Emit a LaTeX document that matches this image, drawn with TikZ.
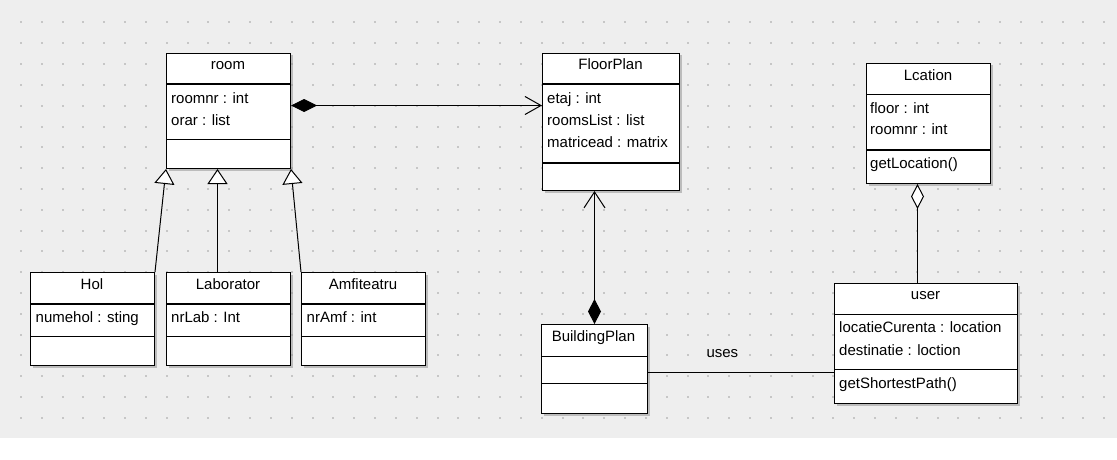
\documentclass[tikz,border=0pt]{standalone}
\usepackage{fontspec}
\setmainfont{Liberation Sans}
\usepackage{xcolor}
\usepackage{tikz}
\usetikzlibrary{arrows.meta}
\usetikzlibrary{shadows}

\definecolor{canvasgrey}{HTML}{EEEEEE}
\definecolor{dotgrey}{HTML}{C6C6C6}

\tikzset{
  classbox/.style={draw=black, fill=white, line width=1pt, inner sep=0pt, anchor=north west,
    drop shadow={shadow xshift=2pt, shadow yshift=-2pt, fill=black!45, opacity=0.5}},
  classname/.style={anchor=base, inner sep=0pt, font=\fontsize{15}{18}\selectfont},
  attr/.style={anchor=base west, inner sep=0pt, font=\fontsize{15}{18}\selectfont},
  compline/.style={line width=1pt},
  heavyline/.style={line width=2pt},
  link/.style={draw=black, line width=1pt},
  inherit/.style={link, -{Triangle[length=15pt, width=20pt, fill=white]}},
}

\begin{document}
\begin{tikzpicture}[x=1pt, y=-1pt]
  \useasboundingbox (0,0) rectangle (1117,460);
  \fill[white] (0,0) rectangle (1117,460);
  \fill[canvasgrey] (0,0) rectangle (1117,438);
  \foreach \i in {0,...,52}
    \foreach \j in {0,...,19}
      \fill[dotgrey] ({20+20.83*\i},{21.5+20.8*\j}) rectangle +(2,2);

  % room
  \node[classbox, minimum width=124pt, minimum height=115pt] (room) at (166,53) {};
  \draw[heavyline] (166,84) -- (290,84);
  \draw[compline] (166,139) -- (290,139);
  \node[classname] at (228,70) {room};
  \node[attr] at (171,103) {roomnr : int};
  \node[attr] at (171,125) {orar : list};

  % Hol
  \node[classbox, minimum width=124pt, minimum height=93pt] (hol) at (30,272) {};
  \draw[heavyline] (30,304) -- (154,304);
  \draw[compline] (30,336) -- (154,336);
  \node[classname] at (92,289) {Hol};
  \node[attr] at (35.5,322.5) {numehol : sting};

  % Laborator
  \node[classbox, minimum width=124pt, minimum height=93pt] (lab) at (166,272) {};
  \draw[heavyline] (166,304) -- (290,304);
  \draw[compline] (166,336) -- (290,336);
  \node[classname] at (228,289) {Laborator};
  \node[attr] at (171,322.5) {nrLab : Int};

  % Amfiteatru
  \node[classbox, minimum width=124pt, minimum height=93pt] (amf) at (301,272) {};
  \draw[heavyline] (301,304) -- (425,304);
  \draw[compline] (301,336) -- (425,336);
  \node[classname] at (363,289) {Amfiteatru};
  \node[attr] at (306.5,322.5) {nrAmf : int};

  % FloorPlan
  \node[classbox, minimum width=137pt, minimum height=137pt] (floorplan) at (542,53) {};
  \draw[heavyline] (542,84) -- (679,84);
  \draw[heavyline] (542,163) -- (679,163);
  \node[classname] at (610.5,70) {FloorPlan};
  \node[attr] at (547,103) {etaj : int};
  \node[attr] at (547,125) {roomsList : list};
  \node[attr] at (547,147) {matricead : matrix};

  % BuildingPlan
  \node[classbox, minimum width=106pt, minimum height=89pt] (buildingplan) at (541,324) {};
  \draw[compline] (541,356) -- (647,356);
  \draw[compline] (541,383) -- (647,383);
  \node[classname] at (593.5,341) {BuildingPlan};

  % Lcation
  \node[classbox, minimum width=124pt, minimum height=120pt] (lcation) at (866,63) {};
  \draw[compline] (866,95) -- (990,95);
  \draw[heavyline] (866,150) -- (990,150);
  \node[classname] at (928,80.5) {Lcation};
  \node[attr] at (870,113.5) {floor : int};
  \node[attr] at (870,135) {roomnr : int};
  \node[attr] at (870,168.5) {getLocation()};

  % user
  \node[classbox, minimum width=183pt, minimum height=120pt] (user) at (834,283) {};
  \draw[compline] (834,314) -- (1017,314);
  \draw[compline] (834,369) -- (1017,369);
  \node[classname] at (925.5,299.5) {user};
  \node[attr] at (839,332.5) {locatieCurenta : location};
  \node[attr] at (839,355) {destinatie : loction};
  \node[attr] at (839,388.5) {getShortestPath()};

  % generalisation
  \draw[inherit] (hol.north east) -- (room.south west);
  \draw[inherit] ([xshift=-11pt]lab.north) -- ([xshift=-11pt]room.south);
  \draw[inherit] (amf.north west) -- (room.south east);

  % composition and aggregation
  \draw[link, {Diamond[length=26pt, width=13pt]}-{Straight Barb[length=16pt, width=18pt]}]
    ([yshift=5.5pt]room.east) -- ([yshift=5.5pt]room.east -| floorplan.west);
  \draw[link, {Diamond[length=25pt, width=13pt]}-{Straight Barb[length=16pt, width=21pt]}]
    (buildingplan.north) -- (buildingplan.north |- floorplan.south);
  \draw[link, {Diamond[open, length=25pt, width=13pt, fill=white]}-]
    ([xshift=-11pt]lcation.south) -- ([xshift=-11pt]lcation.south |- user.north);

  % association
  \draw[link] ([yshift=-3pt]buildingplan.east) -- ([yshift=-3pt]buildingplan.east -| user.west)
    node[classname, pos=0.4, yshift=15pt] {uses};
\end{tikzpicture}
\end{document}
